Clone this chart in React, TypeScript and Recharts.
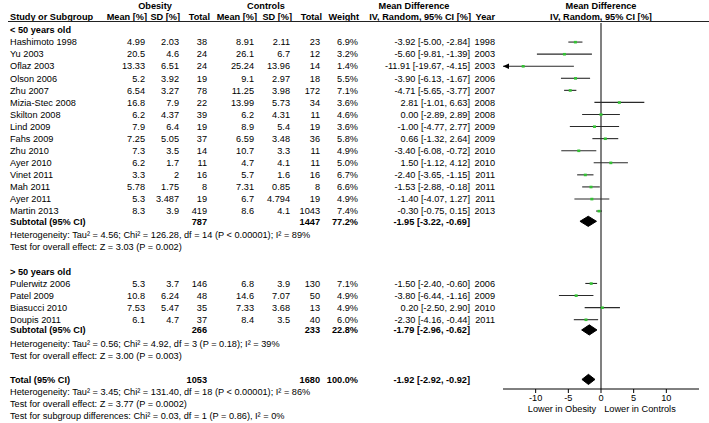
import React from 'react';
import { ComposedChart, XAxis, YAxis, Scatter, ReferenceLine } from 'recharts';

// ---------------- DATA ----------------
const groupLabels = ['< 50 years old', '> 50 years old'];

const studyNames = [
  'Hashimoto 1998', 'Yu 2003', 'Oflaz 2003', 'Olson 2006', 'Zhu 2007', 'Mizia-Stec 2008',
  'Skilton 2008', 'Lind 2009', 'Fahs 2009', 'Zhu 2010', 'Ayer 2010', 'Vinet 2011', 'Mah 2011',
  'Ayer 2011', 'Martin 2013',
  'Pulerwitz 2006', 'Patel 2009', 'Biasucci 2010', 'Doupis 2011',
];
const studyGroup = [0, 0, 0, 0, 0, 0, 0, 0, 0, 0, 0, 0, 0, 0, 0, 1, 1, 1, 1];
const obesityMean = [4.99, 20.5, 13.33, 5.2, 6.54, 16.8, 6.2, 7.9, 7.25, 7.3, 6.2, 3.3, 5.78, 5.3, 8.3, 5.3, 10.8, 7.53, 6.1];
const obesitySD = [2.03, 4.6, 6.51, 3.92, 3.27, 7.9, 4.37, 6.4, 5.05, 3.5, 1.7, 2, 1.75, 3.487, 3.9, 3.7, 6.24, 5.47, 4.7];
const obesityTotal = [38, 24, 24, 19, 78, 22, 39, 19, 37, 14, 11, 16, 8, 19, 419, 146, 48, 35, 37];
const controlMean = [8.91, 26.1, 25.24, 9.1, 11.25, 13.99, 6.2, 8.9, 6.59, 10.7, 4.7, 5.7, 7.31, 6.7, 8.6, 6.8, 14.6, 7.33, 8.4];
const controlSD = [2.11, 6.7, 13.96, 2.97, 3.98, 5.73, 4.31, 5.4, 3.48, 3.3, 4.1, 1.6, 0.85, 4.794, 4.1, 3.9, 7.07, 3.68, 3.5];
const controlTotal = [23, 12, 14, 18, 172, 34, 11, 19, 36, 11, 11, 16, 8, 19, 1043, 130, 50, 13, 40];
const weights = [6.9, 3.2, 1.4, 5.5, 7.1, 3.6, 4.6, 3.6, 5.8, 4.9, 5.0, 6.7, 6.6, 4.9, 7.4, 7.1, 4.9, 4.9, 6.0];
const meanDiff = [-3.92, -5.6, -11.91, -3.9, -4.71, 2.81, 0.0, -1.0, 0.66, -3.4, 1.5, -2.4, -1.53, -1.4, -0.3, -1.5, -3.8, 0.2, -2.3];
const ciLow = [-5.0, -9.81, -19.67, -6.13, -5.65, -1.01, -2.89, -4.77, -1.32, -6.08, -1.12, -3.65, -2.88, -4.07, -0.75, -2.4, -6.44, -2.5, -4.16];
const ciHigh = [-2.84, -1.39, -4.15, -1.67, -3.77, 6.63, 2.89, 2.77, 2.64, -0.72, 4.12, -1.15, -0.18, 1.27, 0.15, -0.6, -1.16, 2.9, -0.44];
const studyYear = [1998, 2003, 2003, 2006, 2007, 2008, 2008, 2009, 2009, 2010, 2010, 2011, 2011, 2011, 2013, 2006, 2009, 2010, 2011];

const subtotalObesity = [787, 266];
const subtotalControl = [1447, 233];
const subtotalWeight = [77.2, 22.8];
const subtotalMD = [-1.95, -1.79];
const subtotalLow = [-3.22, -2.96];
const subtotalHigh = [-0.69, -0.62];
const subtotalHeterogeneity = [
  'Heterogeneity: Tau\u00b2 = 4.56; Chi\u00b2 = 126.28, df = 14 (P < 0.00001); I\u00b2 = 89%',
  'Heterogeneity: Tau\u00b2 = 0.56; Chi\u00b2 = 4.92, df = 3 (P = 0.18); I\u00b2 = 39%',
];
const subtotalEffect = ['Test for overall effect: Z = 3.03 (P = 0.002)', 'Test for overall effect: Z = 3.00 (P = 0.003)'];

const totalObesity = 1053;
const totalControl = 1680;
const totalWeight = 100.0;
const totalMD = -1.92;
const totalLow = -2.92;
const totalHigh = -0.92;
const footerLines = [
  'Heterogeneity: Tau\u00b2 = 3.45; Chi\u00b2 = 131.40, df = 18 (P < 0.00001); I\u00b2 = 86%',
  'Test for overall effect: Z = 3.77 (P = 0.0002)',
  'Test for subgroup differences: Chi\u00b2 = 0.03, df = 1 (P = 0.86), I\u00b2 = 0%',
];

const xTicks = [-10, -5, 0, 5, 10];
const xDomain: [number, number] = [-15, 15];

// ---------------- LAYOUT ----------------
const W = 709;
const H = 423;
const FONT = '"Liberation Sans", Arial, Helvetica, sans-serif';
const FS = 9.2;
const PLOT_LEFT = 503;
const PLOT_RIGHT = 699;
const PLOT_TOP = 23;
const PLOT_BOTTOM = 389;
const ROW0_PX = 30;
const ROW_H = 12.07;
const yMin = -(ROW0_PX - PLOT_TOP) / ROW_H;
const yMax = (PLOT_BOTTOM - ROW0_PX) / ROW_H;

const COL = {
  name: 10, obMean: 145, obSD: 179, obTot: 207, ctMean: 254, ctSD: 290, ctTot: 320,
  weight: 358, ci: 470, year: 495,
};

const f2 = (v: number) => v.toFixed(2);
const ciText = (m: number, l: number, h: number) => `${f2(m)} [${f2(l)}, ${f2(h)}]`;
const pct = (w: number) => `${w.toFixed(1)}%`;

// ---------------- BUILD ROWS ----------------
type Row = { x: number; y: number; kind: string; i: number };
const textRows: Row[] = [];
const studyPoints: { x: number; y: number; i: number }[] = [];
const ciSegments: { lo: number; hi: number; y: number; clipped: boolean }[] = [];
const diamonds: { x: number; y: number }[][] = [];
const DH = 0.42;

const makeDiamond = (m: number, l: number, h: number, y: number) => [
  { x: l, y }, { x: m, y: y - DH }, { x: h, y }, { x: m, y: y + DH }, { x: l, y },
];

let r = 0;
groupLabels.forEach((_, g) => {
  textRows.push({ x: 0, y: r, kind: 'group', i: g });
  r += 1;
  studyNames.forEach((_, i) => {
    if (studyGroup[i] !== g) return;
    textRows.push({ x: 0, y: r, kind: 'study', i });
    studyPoints.push({ x: meanDiff[i], y: r, i });
    const lo = Math.max(ciLow[i], xDomain[0]);
    const hi = Math.min(ciHigh[i], xDomain[1]);
    ciSegments.push({ lo, hi, y: r, clipped: ciLow[i] < xDomain[0] });
    r += 1;
  });
  const sy = r - 0.15;
  textRows.push({ x: 0, y: sy, kind: 'subtotal', i: g });
  diamonds.push(makeDiamond(subtotalMD[g], subtotalLow[g], subtotalHigh[g], sy));
  textRows.push({ x: 0, y: r + 1, kind: 'het', i: g });
  textRows.push({ x: 0, y: r + 2, kind: 'effect', i: g });
  r += 4;
});
const totalY = r - 0.05;
textRows.push({ x: 0, y: totalY, kind: 'total', i: 0 });
diamonds.push(makeDiamond(totalMD, totalLow, totalHigh, totalY));
const arrowPoints = ciSegments.filter((s) => s.clipped).map((s) => ({ x: s.lo, y: s.y }));

// ---------------- RENDER HELPERS ----------------
const T = ({ x, y, anchor = 'end', bold = false, children }: any) => (
  <text x={x} y={y} dy="0.35em" textAnchor={anchor} fontSize={FS} fontFamily={FONT}
    fontWeight={bold ? 'bold' : 'normal'} fill="#000">{children}</text>
);

const RowShape = (props: any) => {
  const { cy, payload } = props;
  const { kind, i } = payload as Row;
  if (kind === 'group') return <T x={COL.name} y={cy} anchor="start" bold>{groupLabels[i]}</T>;
  if (kind === 'het') return <T x={COL.name} y={cy} anchor="start">{subtotalHeterogeneity[i]}</T>;
  if (kind === 'effect') return <T x={COL.name} y={cy} anchor="start">{subtotalEffect[i]}</T>;
  if (kind === 'study') {
    return (
      <g>
        <T x={COL.name} y={cy} anchor="start">{studyNames[i]}</T>
        <T x={COL.obMean} y={cy}>{String(obesityMean[i])}</T>
        <T x={COL.obSD} y={cy}>{String(obesitySD[i])}</T>
        <T x={COL.obTot} y={cy}>{String(obesityTotal[i])}</T>
        <T x={COL.ctMean} y={cy}>{String(controlMean[i])}</T>
        <T x={COL.ctSD} y={cy}>{String(controlSD[i])}</T>
        <T x={COL.ctTot} y={cy}>{String(controlTotal[i])}</T>
        <T x={COL.weight} y={cy}>{pct(weights[i])}</T>
        <T x={COL.ci} y={cy}>{ciText(meanDiff[i], ciLow[i], ciHigh[i])}</T>
        <T x={COL.year} y={cy}>{String(studyYear[i])}</T>
      </g>
    );
  }
  if (kind === 'subtotal') {
    return (
      <g>
        <T x={COL.name} y={cy} anchor="start" bold>Subtotal (95% CI)</T>
        <T x={COL.obTot} y={cy} bold>{String(subtotalObesity[i])}</T>
        <T x={COL.ctTot} y={cy} bold>{String(subtotalControl[i])}</T>
        <T x={COL.weight} y={cy} bold>{pct(subtotalWeight[i])}</T>
        <T x={COL.ci} y={cy} bold>{ciText(subtotalMD[i], subtotalLow[i], subtotalHigh[i])}</T>
      </g>
    );
  }
  if (kind === 'total') {
    return (
      <g>
        <T x={COL.name} y={cy} anchor="start" bold>Total (95% CI)</T>
        <T x={COL.obTot} y={cy} bold>{String(totalObesity)}</T>
        <T x={COL.ctTot} y={cy} bold>{String(totalControl)}</T>
        <T x={COL.weight} y={cy} bold>{pct(totalWeight)}</T>
        <T x={COL.ci} y={cy} bold>{ciText(totalMD, totalLow, totalHigh)}</T>
      </g>
    );
  }
  return <g />;
};

const MarkerShape = (props: any) => {
  const { cx, cy } = props;
  return <rect x={cx - 1.5} y={cy - 1.2} width={3} height={2.6} fill="#33c233" />;
};

const ArrowShape = (props: any) => {
  const { cx, cy } = props;
  return <path d={`M${cx},${cy} L${cx + 6},${cy - 2.8} L${cx + 6},${cy + 2.8} Z`} fill="#000" />;
};

const Empty = () => <g />;

export default function App() {
  return (
    <div style={{ position: 'relative', width: W, height: H, background: '#fff' }}>
      <style>{'body{margin:0;background:#fff}'}</style>
      <ComposedChart width={W} height={H}
        margin={{ top: PLOT_TOP, right: W - PLOT_RIGHT, bottom: H - PLOT_BOTTOM - 20, left: PLOT_LEFT }}>
        <XAxis type="number" dataKey="x" domain={xDomain} ticks={xTicks} interval={0} height={20}
          tickSize={4} tickMargin={1}
          axisLine={{ stroke: '#000', strokeWidth: 1 }} tickLine={{ stroke: '#000' }}
          tick={{ fontSize: FS, fill: '#000', fontFamily: FONT }} />
        <YAxis type="number" dataKey="y" domain={[yMin, yMax]} reversed hide width={0} />
        <ReferenceLine x={0} stroke="#808080" strokeWidth={2} />
        {ciSegments.map((s, k) => (
          <ReferenceLine key={`ci${k}`} segment={[{ x: s.lo, y: s.y }, { x: s.hi, y: s.y }]}
            stroke="#2a2a2a" strokeWidth={1.1} ifOverflow="visible" />
        ))}
        <Scatter data={arrowPoints} shape={ArrowShape} isAnimationActive={false} />
        <Scatter data={studyPoints} shape={MarkerShape} isAnimationActive={false} />
        {diamonds.map((d, k) => (
          <Scatter key={`dm${k}`} data={d} shape={Empty} isAnimationActive={false}
            line={{ fill: '#000', stroke: '#000', strokeWidth: 1 }} lineType="joint" />
        ))}
        <Scatter data={textRows} shape={RowShape} isAnimationActive={false} />
      </ComposedChart>
      <svg width={W} height={H} style={{ position: 'absolute', left: 0, top: 0, pointerEvents: 'none' }}>
        <T x={155} y={6} anchor="middle" bold>Obesity</T>
        <T x={266} y={6} anchor="middle" bold>Controls</T>
        <T x={414} y={6} anchor="middle" bold>Mean Difference</T>
        <T x={601} y={6} anchor="middle" bold>Mean Difference</T>
        <T x={COL.name} y={17} anchor="start" bold>Study or Subgroup</T>
        <T x={COL.obMean + 2} y={17} bold>Mean [%]</T>
        <T x={COL.obSD + 1} y={17} bold>SD [%]</T>
        <T x={COL.obTot + 3} y={17} bold>Total</T>
        <T x={COL.ctMean + 3} y={17} bold>Mean [%]</T>
        <T x={COL.ctSD + 2} y={17} bold>SD [%]</T>
        <T x={COL.ctTot + 2} y={17} bold>Total</T>
        <T x={COL.weight + 1} y={17} bold>Weight</T>
        <T x={COL.ci + 1} y={17} bold>IV, Random, 95% CI [%]</T>
        <T x={COL.year} y={17} bold>Year</T>
        <T x={601} y={17} anchor="middle" bold>IV, Random, 95% CI [%]</T>
        <line x1={8} x2={W} y1={21.5} y2={21.5} stroke="#222" strokeWidth={1} />
        {footerLines.map((t, k) => (
          <T key={k} x={COL.name} y={392 + k * 12} anchor="start">{t}</T>
        ))}
        <T x={562} y={409} anchor="middle">Lower in Obesity</T>
        <T x={640} y={409} anchor="middle">Lower in Controls</T>
      </svg>
    </div>
  );
}
